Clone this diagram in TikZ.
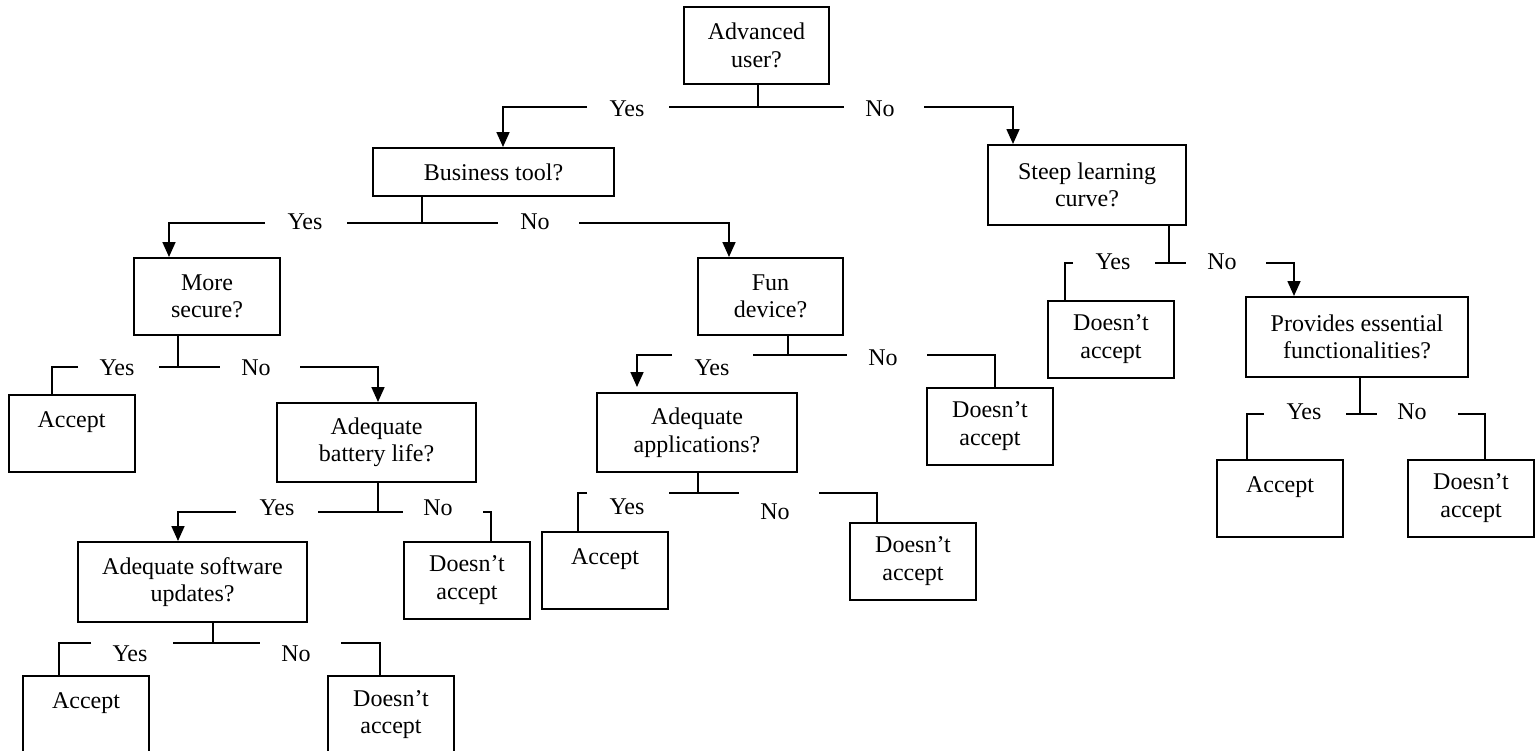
\documentclass[tikz,border=0pt]{standalone}
\usepackage{fontspec}
\setmainfont{Liberation Serif}
\usetikzlibrary{arrows.meta}
\begin{document}
\begin{tikzpicture}[x=1pt,y=-1pt,
  every node/.style={font=\fontsize{24}{27.5}\selectfont},
  box/.style={draw, line width=2pt, align=center, inner sep=0pt},
  leaf/.style={box, minimum width=126pt, minimum height=77pt},
  wire/.style={line width=1.7pt},
  flow/.style={wire, -{Triangle[length=15pt,width=13pt]}},
  answer/.style={inner sep=0pt, anchor=center}]
\useasboundingbox (0,0) rectangle (1540,750);
\clip (0,0) rectangle (1540,750);

% decision boxes
\node[box, minimum width=145pt, minimum height=77pt] (adv)   at (756.5,45.5)  {Advanced\\user?};
\node[box, minimum width=241pt, minimum height=48pt] (biz)   at (493.5,172)   {Business tool?};
\node[box, minimum width=198pt, minimum height=80pt] (steep) at (1087,185)    {Steep learning\\curve?};
\node[box, minimum width=146pt, minimum height=77pt] (sec)   at (207,296.5)   {More\\secure?};
\node[box, minimum width=145pt, minimum height=77pt] (fun)   at (770.5,296.5) {Fun\\device?};
\node[box, minimum width=222pt, minimum height=80pt] (prov)  at (1357,337)    {Provides essential\\functionalities?};
\node[box, minimum width=199pt, minimum height=79pt] (bat)   at (376.5,442.5) {Adequate\\battery life?};
\node[box, minimum width=200pt, minimum height=79pt] (app)   at (697,432.5)   {Adequate\\applications?};
\node[box, minimum width=229pt, minimum height=80pt] (upd)   at (192.5,582)   {Adequate software\\updates?};

% outcomes
\node[leaf] (secY)   at (71.5,433.5) {Accept\\~};
\node[leaf] (batN)   at (467,580)    {Doesn’t\\accept};
\node[leaf] (updY)   at (86,714.5)   {Accept\\~};
\node[leaf] (updN)   at (391,714.5)  {Doesn’t\\accept};
\node[leaf] (appY)   at (605,570.5)  {Accept\\~};
\node[leaf] (appN)   at (913,561)    {Doesn’t\\accept};
\node[leaf] (funN)   at (990,426)    {Doesn’t\\accept};
\node[leaf] (steepY) at (1111,339)   {Doesn’t\\accept};
\node[leaf] (provY)  at (1280,498)   {Accept\\~};
\node[leaf] (provN)  at (1471,498)   {Doesn’t\\accept};

% answer labels
\node[answer] (advYes)   at (627,109)    {Yes};
\node[answer] (advNo)    at (880,109)    {No};
\node[answer] (bizYes)   at (305,221.5)  {Yes};
\node[answer] (bizNo)    at (535,221.5)  {No};
\node[answer] (secYes)   at (117,368)    {Yes};
\node[answer] (secNo)    at (256,368)    {No};
\node[answer] (batYes)   at (277,507.5)  {Yes};
\node[answer] (batNo)    at (438,507.5)  {No};
\node[answer] (updYes)   at (130,654)    {Yes};
\node[answer] (updNo)    at (296,654)    {No};
\node[answer] (funYes)   at (712,368)    {Yes};
\node[answer] (funNo)    at (883,358)    {No};
\node[answer] (appYes)   at (627,507)    {Yes};
\node[answer] (appNo)    at (775,512)    {No};
\node[answer] (steepYes) at (1113,261.5) {Yes};
\node[answer] (steepNo)  at (1222,261.5) {No};
\node[answer] (provYes)  at (1304,412)   {Yes};
\node[answer] (provNo)   at (1412,412)   {No};

% split bars: junction, middle span, start of the Yes and No runs
\path (758,107)  coordinate (advJ)   (669,107)  coordinate (advA)   (844,107)  coordinate (advB)
      (587,107)  coordinate (advY0)  (924,107)  coordinate (advN0);
\path (422,223)  coordinate (bizJ)   (347,223)  coordinate (bizA)   (498,223)  coordinate (bizB)
      (265,223)  coordinate (bizY0)  (579,223)  coordinate (bizN0);
\path (178,367)  coordinate (secJ)   (159,367)  coordinate (secA)   (220,367)  coordinate (secB)
      (78,367)   coordinate (secY0)  (300,367)  coordinate (secN0);
\path (378,512)  coordinate (batJ)   (318,512)  coordinate (batA)   (403,512)  coordinate (batB)
      (236,512)  coordinate (batY0)  (483,512)  coordinate (batN0);
\path (213,643)  coordinate (updJ)   (173,643)  coordinate (updA)   (260,643)  coordinate (updB)
      (91,643)   coordinate (updY0)  (341,643)  coordinate (updN0);
\path (788,355)  coordinate (funJ)   (753,355)  coordinate (funA)   (847,355)  coordinate (funB)
      (672,355)  coordinate (funY0)  (927,355)  coordinate (funN0);
\path (698,493)  coordinate (appJ)   (669,493)  coordinate (appA)   (739,493)  coordinate (appB)
      (587,493)  coordinate (appY0)  (819,493)  coordinate (appN0);
\path (1169,263) coordinate (steepJ) (1155,263) coordinate (steepA) (1186,263) coordinate (steepB)
      (1073,263) coordinate (steepY0) (1266,263) coordinate (steepN0);
\path (1360,414) coordinate (provJ)  (1346,414) coordinate (provA)  (1377,414) coordinate (provB)
      (1264,414) coordinate (provY0) (1458,414) coordinate (provN0);

% stems and middle spans
\foreach \d in {adv,biz,sec,bat,upd,fun,app,steep,prov}{
  \draw[wire] (\d J |- \d.south) -- (\d J);
  \draw[wire] (\d A) -- (\d B);
}

% branches
\draw[flow] (advY0)   -| ([xshift=9.5pt]biz.north);
\draw[flow] (advN0)   -| ([xshift=-74pt]steep.north);
\draw[flow] (bizY0)   -| ([xshift=-38pt]sec.north);
\draw[flow] (bizN0)   -| ([xshift=-41.5pt]fun.north);
\draw[wire] (secY0)   -| ([xshift=-19.5pt]secY.north);
\draw[flow] (secN0)   -| ([xshift=1.5pt]bat.north);
\draw[flow] (batY0)   -| ([xshift=-14.5pt]upd.north);
\draw[wire] (batN0)   -| ([xshift=24pt]batN.north);
\draw[wire] (updY0)   -| ([xshift=-27pt]updY.north);
\draw[wire] (updN0)   -| ([xshift=-11pt]updN.north);
\draw[flow, shorten >=5pt] (funY0) -| ([xshift=-60pt]app.north);
\draw[wire] (funN0)   -| ([xshift=5pt]funN.north);
\draw[wire] (appY0)   -| ([xshift=-27pt]appY.north);
\draw[wire] (appN0)   -| ([xshift=-36pt]appN.north);
\draw[wire] (steepY0) -| ([xshift=-46pt]steepY.north);
\draw[flow] (steepN0) -| ([xshift=-63pt]prov.north);
\draw[wire] (provY0)  -| ([xshift=-33pt]provY.north);
\draw[wire] (provN0)  -| ([xshift=14pt]provN.north);
\end{tikzpicture}
\end{document}
